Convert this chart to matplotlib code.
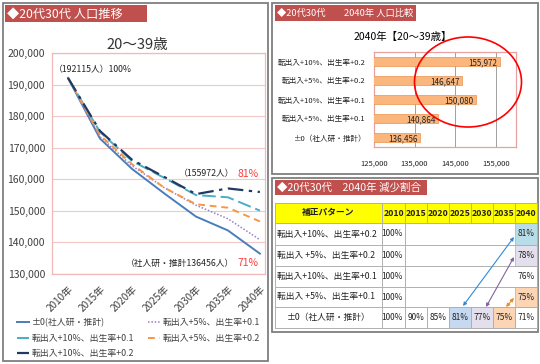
import numpy as np
import matplotlib.pyplot as plt
from matplotlib.patches import Rectangle, Ellipse, FancyArrowPatch
from matplotlib.ticker import FuncFormatter

plt.rcParams['font.family'] = ['Noto Sans CJK JP', 'DejaVu Sans']

# --- left: population trend 20-39 ---
years = ['2010年', '2015年', '2020年', '2025年', '2030年', '2035年', '2040年']
base      = [192115, 172900, 163300, 155600, 148200, 143800, 136456]
mig5_b01  = [192115, 173500, 164300, 157400, 151800, 147500, 140864]
mig10_b01 = [192115, 175000, 165800, 160500, 155000, 154300, 150080]
mig5_b02  = [192115, 174000, 164800, 157400, 152100, 151000, 146647]
mig10_b02 = [192115, 175300, 166200, 160800, 155300, 157100, 155972]

# --- right top: 2040 comparison ---
bar_labels = ['転出入+10%、出生率+0.2', '転出入+5%、出生率+0.2', '転出入+10%、出生率+0.1',
              '転出入+5%、出生率+0.1', '±0（社人研・推計）']
bar_values = [155972, 146647, 150080, 140864, 136456]

# --- right bottom: ratio table ---
tbl_head = ['補正パターン', '2010', '2015', '2020', '2025', '2030', '2035', '2040']
tbl_rows = ['転出入+10%、出生率+0.2', '転出入 +5%、出生率+0.2', '転出入+10%、出生率+0.1',
            '転出入 +5%、出生率+0.1', '±0（社人研・推計）']
tbl_vals = [['100%', '', '', '', '', '', '81%'],
            ['100%', '', '', '', '', '', '78%'],
            ['100%', '', '', '', '', '', '76%'],
            ['100%', '', '', '', '', '', '75%'],
            ['100%', '90%', '85%', '81%', '77%', '75%', '71%']]
tbl_fill = {(0, 6): '#B7DEE8', (1, 6): '#E4DFEC', (3, 6): '#FCD5B4',
            (4, 3): '#C5D9F1', (4, 4): '#E4DFEC', (4, 5): '#FCD5B4'}

W, H = 540, 364
def px(x0, y0, x1, y1):
    return [x0 / W, 1 - y1 / H, (x1 - x0) / W, (y1 - y0) / H]

fig = plt.figure(figsize=(5.4, 3.64), dpi=100)
bg = fig.add_axes([0, 0, 1, 1])
bg.set_xlim(0, W); bg.set_ylim(H, 0); bg.axis('off')

# panels and title bars
for x0, y0, x1, y1 in [(3, 3, 268, 361), (272, 3, 538, 174), (272, 178, 538, 332)]:
    bg.add_patch(Rectangle((x0, y0), x1 - x0, y1 - y0, fill=False, ec='#7F7F7F', lw=1.3))
for x0, y0, x1, y1, t, fs in [(5, 5, 147, 22, '◆20代30代 人口推移', 8.8),
                              (275, 5, 416, 21, '◆20代30代\u3000\u30002040年 人口比較', 6.7),
                              (275, 180, 427, 195, '◆20代30代\u30002040年 減少割合', 7.6)]:
    bg.add_patch(Rectangle((x0, y0), x1 - x0, y1 - y0, fc='#C0504D', ec='none'))
    bg.text(x0 + 2, (y0 + y1) / 2 + 0.5, t, color='white', fontsize=fs, va='center', ha='left')

bg.text(137, 45, '20～39歳', fontsize=10.5, ha='center', va='center', color='#333333')
bg.text(403, 37, '2040年【20～39歳】', fontsize=7.5, ha='center', va='center', color='black')

# left line chart
ax1 = fig.add_axes(px(52, 53, 265, 274))
x = np.arange(len(years))
l0, = ax1.plot(x, base, color='#4A7EBB', lw=1.4, label='±0(社人研・推計)')
l1, = ax1.plot(x, mig5_b01, color='#9B7FC4', lw=1.1, ls=(0, (1, 1.2)), label='転出入+5%、出生率+0.1')
l2, = ax1.plot(x, mig10_b01, color='#4BACC6', lw=1.4, ls=(0, (7, 2.5)), label='転出入+10%、出生率+0.1')
l3, = ax1.plot(x, mig5_b02, color='#F79646', lw=1.4, ls=(0, (3.5, 2.5)), label='転出入+5%、出生率+0.2')
l4, = ax1.plot(x, mig10_b02, color='#1F3B64', lw=1.6, ls=(0, (7, 2.5, 1.5, 2.5)), label='転出入+10%、出生率+0.2')
ax1.set_xlim(-0.5, 6.16)
ax1.set_ylim(130000, 200000)
ax1.set_yticks(np.arange(130000, 200001, 10000))
ax1.yaxis.set_major_formatter(FuncFormatter(lambda v, p: f'{int(v):,}'))
ax1.set_xticks(x)
ax1.set_xticklabels(years, rotation=45, ha='right', rotation_mode='anchor', fontsize=7.2, color='#404040')
ax1.tick_params(axis='y', labelsize=7.5, labelcolor='#404040', length=0, pad=5)
ax1.tick_params(axis='x', length=0, pad=7)
ax1.grid(axis='y', color='#F4C7C7', lw=0.8)
for s in ax1.spines.values():
    s.set_color('#F0B8B8'); s.set_linewidth(0.9)
ax1.set_axisbelow(True)

ax1.text(-0.45, base[0] + 2700, f'（{base[0]}人）100%', fontsize=6.3, ha='left', va='center', color='#222222')
ax1.text(5.2, mig10_b02[-1] + 5800, f'（{mig10_b02[-1]}人）', fontsize=6.3, ha='right', va='center', color='#222222')
ax1.text(5.95, mig10_b02[-1] + 5800, f'{round(mig10_b02[-1] / base[0] * 100)}%', fontsize=7.5,
         ha='right', va='center', color='#FF3B3B')
ax1.text(5.2, base[-1] - 3000, f'（社人研・推計{base[-1]}人）', fontsize=6.3, ha='right', va='center', color='#222222')
ax1.text(5.95, base[-1] - 3000, f'{round(base[-1] / base[0] * 100)}%', fontsize=7.5,
         ha='right', va='center', color='#FF3B3B')

fig.legend(handles=[l0, l2, l4, l1, l3], loc='upper left', bbox_to_anchor=(17 / W, 1 - 318 / H),
           ncol=2, frameon=False, fontsize=6.4, handlelength=1.4, handletextpad=0.3,
           columnspacing=1.5, labelspacing=0.75, borderpad=0, borderaxespad=0,
           labelcolor='#404040')

# right bar chart
ax2 = fig.add_axes(px(374, 52, 516, 147))
yb = np.arange(len(bar_values))
ax2.barh(yb, bar_values, height=0.52, color='#FAB67C', edgecolor='#E8914C', lw=0.5, zorder=3)
ax2.set_xlim(125000, 160000)
ax2.set_ylim(4.5, -0.5)
ax2.set_yticks(yb)
ax2.set_yticklabels(bar_labels, fontsize=5.5, color='#222222')
ax2.set_xticks([125000, 135000, 145000, 155000])
ax2.xaxis.set_major_formatter(FuncFormatter(lambda v, p: f'{int(v):,}'))
ax2.tick_params(axis='x', labelsize=5.5, labelcolor='#222222', length=0, pad=9)
ax2.tick_params(axis='y', length=0, pad=6)
ax2.grid(axis='x', color='#A0A0A0', lw=0.7)
ax2.set_axisbelow(True)
for s in ax2.spines.values():
    s.set_color('#E8A0A0'); s.set_linewidth(0.9)
for yi, v in zip(yb, bar_values):
    ax2.text(v - 600, yi + 0.05, f'{v:,}', fontsize=5.8, ha='right', va='center', color='#222222', zorder=4)

# table
cx = [275, 382, 405, 427, 449, 471, 493, 515, 537]
ry = [203, 223, 245, 266, 287, 307, 328]
bg.add_patch(Rectangle((cx[0], ry[0]), cx[-1] - cx[0], ry[1] - ry[0], fc='#FFFF00', ec='none'))
for (r, c), col in tbl_fill.items():
    bg.add_patch(Rectangle((cx[c + 1], ry[r + 1]), cx[c + 2] - cx[c + 1], ry[r + 2] - ry[r + 1],
                           fc=col, ec='#B0B0B0', lw=0.5))
for y in ry:
    bg.plot([cx[0], cx[-1]], [y, y], color='#B0B0B0', lw=0.7)
for i, xv in enumerate(cx):
    if i in (0, 1, 2, len(cx) - 1):
        bg.plot([xv, xv], [ry[0], ry[-1]], color='#B0B0B0', lw=0.7)
    else:
        bg.plot([xv, xv], [ry[0], ry[1]], color='#B0B0B0', lw=0.7)
        bg.plot([xv, xv], [ry[-2], ry[-1]], color='#B0B0B0', lw=0.7)
for j, h in enumerate(tbl_head):
    bg.text((cx[j] + cx[j + 1]) / 2, (ry[0] + ry[1]) / 2, h, fontsize=6.3, ha='center', va='center',
            color='#222222', fontweight='bold')
for i, name in enumerate(tbl_rows):
    yc = (ry[i + 1] + ry[i + 2]) / 2
    if i == len(tbl_rows) - 1:
        bg.text((cx[0] + cx[1]) / 2, yc, name, fontsize=6.3, ha='center', va='center', color='#222222')
    else:
        bg.text(cx[0] + 2, yc, name, fontsize=6.3, ha='left', va='center', color='#222222')
    for j, v in enumerate(tbl_vals[i]):
        if v:
            bg.text(cx[j + 2] - 2, yc, v, fontsize=6, ha='right', va='center', color='#222222')

# overlay: ellipse and arrows
ov = fig.add_axes([0, 0, 1, 1])
ov.set_xlim(0, W); ov.set_ylim(H, 0); ov.axis('off')
ov.add_patch(Ellipse((468, 82), 107, 90, fill=False, ec='#FF0000', lw=1.2))
for (xa, ya), (xb, yb2), col in [((463, 306), (514, 237), '#2E8BD8'),
                                 ((486, 307), (514, 257), '#8064A2'),
                                 ((506, 307), (514, 298), '#F08A24')]:
    ov.add_patch(FancyArrowPatch((xa, ya), (xb, yb2), arrowstyle='<|-|>', mutation_scale=5,
                                 color=col, lw=0.8, shrinkA=0, shrinkB=0))

fig.savefig('out.png', dpi=100)
